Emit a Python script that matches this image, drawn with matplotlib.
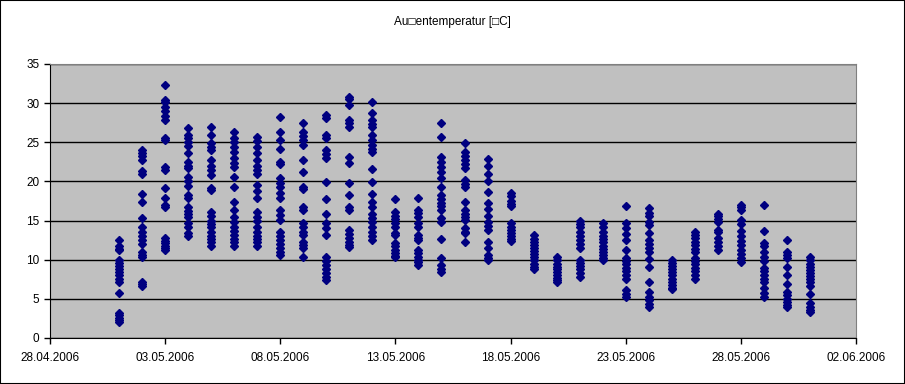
import datetime as dt
import matplotlib
matplotlib.use("Agg")
import matplotlib.pyplot as plt
import matplotlib.dates as mdates
from matplotlib.patches import Rectangle

plt.rcParams['font.family'] = ['Liberation Sans', 'DejaVu Sans']

title = "Au\u25a1entemperatur [\u25a1C]"

# one list of readings per day, 01.05.2006 .. 31.05.2006
day_values = [
    [12.5, 11.7, 11.4, 11.2, 10.0, 9.6, 9.2, 8.8, 8.4, 8.0, 7.6, 7.2, 5.8, 3.2, 2.9, 2.6, 2.3, 2.0],
    [24.0, 23.6, 23.2, 22.8, 21.3, 21.0, 18.4, 17.4, 15.3, 14.2, 13.6, 13.0, 12.5, 12.0, 11.0, 10.6, 10.4, 7.2, 6.9, 6.6],
    [32.3, 30.4, 30.1, 29.5, 29.0, 28.4, 27.8, 25.5, 25.3, 21.8, 21.5, 19.2, 17.9, 17.0, 16.7, 12.8, 12.4, 12.1, 11.8, 11.5, 11.2],
    [26.8, 25.9, 25.5, 25.0, 24.5, 23.6, 22.5, 22.0, 21.7, 20.6, 20.0, 19.4, 18.3, 17.9, 16.7, 16.2, 15.8, 15.5, 14.7, 14.2, 13.4, 13.0],
    [26.9, 25.9, 24.9, 24.4, 24.0, 22.7, 22.0, 21.4, 20.8, 19.2, 18.9, 16.1, 15.6, 15.0, 14.6, 14.2, 13.5, 13.0, 12.6, 12.2, 11.8],
    [26.3, 25.6, 25.0, 24.4, 23.8, 23.0, 22.4, 21.8, 20.6, 19.3, 17.4, 16.4, 15.5, 14.8, 14.2, 13.7, 13.2, 12.7, 12.2, 11.7],
    [25.7, 25.2, 24.4, 23.6, 22.7, 22.0, 21.4, 21.0, 19.5, 18.8, 17.9, 16.1, 15.5, 15.0, 14.2, 13.6, 13.0, 12.6, 12.2, 11.7],
    [28.2, 26.3, 25.3, 24.1, 22.5, 22.2, 20.4, 19.8, 19.3, 18.5, 17.9, 16.3, 15.7, 15.1, 13.5, 13.0, 12.5, 12.0, 11.5, 11.0, 10.6],
    [27.5, 26.3, 25.8, 25.3, 24.6, 22.7, 21.2, 19.3, 19.0, 16.7, 16.3, 14.7, 14.2, 13.6, 13.2, 12.3, 11.9, 11.5, 10.3],
    [28.5, 28.1, 25.9, 25.5, 24.0, 23.5, 23.0, 19.9, 17.8, 15.8, 14.7, 14.0, 13.2, 10.3, 9.8, 9.3, 8.8, 8.3, 7.8, 7.4],
    [30.8, 30.5, 29.8, 27.9, 27.5, 26.9, 23.1, 22.4, 19.8, 18.3, 16.7, 16.3, 13.8, 13.3, 12.8, 12.3, 11.9, 11.6],
    [30.1, 28.7, 27.8, 27.3, 26.9, 25.9, 25.3, 24.6, 24.2, 23.8, 21.6, 19.9, 18.4, 17.4, 16.7, 15.8, 15.3, 14.8, 14.2, 13.5, 13.0, 12.5],
    [17.8, 16.1, 15.6, 15.2, 14.7, 14.2, 13.4, 13.2, 12.1, 11.7, 11.3, 10.9, 10.5, 10.3],
    [17.9, 16.3, 16.0, 15.5, 14.7, 14.2, 13.2, 12.8, 12.5, 11.2, 10.8, 10.4, 10.0, 9.7, 9.3],
    [27.5, 25.7, 23.1, 22.5, 21.8, 21.2, 20.4, 19.3, 18.3, 17.8, 17.3, 16.8, 16.3, 15.3, 14.8, 12.6, 10.2, 9.3, 8.8, 8.4],
    [24.9, 23.8, 23.3, 22.8, 22.2, 21.7, 20.2, 19.7, 19.3, 17.4, 16.3, 15.9, 15.5, 15.1, 14.0, 13.6, 13.4, 12.3],
    [22.9, 22.0, 20.9, 20.1, 18.6, 17.2, 16.5, 15.6, 14.8, 14.3, 13.8, 12.3, 11.5, 10.6, 10.2, 9.9],
    [18.5, 18.1, 17.5, 17.1, 16.8, 14.7, 14.2, 13.8, 13.4, 13.0, 12.7, 12.4],
    [13.2, 12.7, 12.3, 11.9, 11.5, 11.1, 10.7, 10.3, 9.9, 9.5, 9.1, 8.8],
    [10.3, 9.9, 9.5, 9.1, 8.8, 8.4, 8.0, 7.7, 7.4, 7.1],
    [15.0, 14.6, 14.2, 13.6, 13.0, 12.5, 12.0, 11.5, 10.0, 9.6, 9.2, 8.8, 8.3, 7.8],
    [14.7, 14.2, 13.6, 13.0, 12.6, 12.2, 11.8, 11.4, 11.0, 10.6, 10.2, 9.9],
    [16.9, 14.7, 14.0, 13.3, 12.5, 11.2, 10.2, 9.8, 9.4, 9.0, 8.5, 8.0, 7.5, 6.1, 5.6, 5.2],
    [16.6, 16.0, 15.6, 14.8, 14.4, 13.4, 12.5, 12.0, 11.5, 11.0, 10.1, 9.1, 7.2, 5.9, 5.3, 4.8, 4.3, 3.9],
    [10.0, 9.6, 9.2, 8.8, 8.4, 8.0, 7.6, 7.2, 6.8, 6.4, 6.2],
    [13.6, 13.2, 12.8, 12.3, 11.9, 11.4, 11.0, 10.2, 9.8, 9.4, 9.0, 8.5, 8.0, 7.5],
    [15.9, 15.6, 15.2, 14.8, 13.8, 13.5, 12.8, 12.3, 11.8, 11.3],
    [17.0, 16.7, 16.3, 15.1, 14.5, 13.7, 13.0, 12.4, 11.9, 11.3, 10.7, 10.2, 9.7],
    [17.0, 13.7, 12.1, 11.8, 11.0, 10.4, 9.8, 8.9, 8.5, 8.0, 7.5, 7.2, 6.4, 5.7, 5.3],
    [12.5, 11.0, 10.6, 10.2, 9.1, 8.0, 6.9, 5.9, 5.5, 5.0, 4.6, 4.2, 3.9],
    [10.3, 9.9, 9.5, 9.1, 8.7, 8.3, 7.9, 7.5, 7.1, 6.7, 5.6, 4.5, 4.0, 3.6, 3.3],
]
first_day = dt.datetime(2006, 5, 1)

x_ticks = ["28.04.2006", "03.05.2006", "08.05.2006", "13.05.2006",
           "18.05.2006", "23.05.2006", "28.05.2006", "02.06.2006"]
y_ticks = [0, 5, 10, 15, 20, 25, 30, 35]

xs, ys = [], []
for i, vals in enumerate(day_values):
    d = first_day + dt.timedelta(days=i)
    for v in vals:
        xs.append(d)
        ys.append(v)

fig = plt.figure(figsize=(9.05, 3.84), dpi=100)
fig.patches.append(Rectangle((0, 0), 1, 1, transform=fig.transFigure,
                             fill=False, edgecolor='black', linewidth=1.5))
ax = fig.add_axes([50 / 905, 1 - 338 / 384, 806 / 905, 274 / 384])
ax.set_facecolor('#c0c0c0')

ax.plot(xs, ys, linestyle='none', marker='D', markersize=4.2,
        color='#000080', zorder=3)

tick_dates = [dt.datetime.strptime(t, "%d.%m.%Y") for t in x_ticks]
ax.set_xlim(tick_dates[0], tick_dates[-1])
ax.set_ylim(0, 35)
ax.set_xticks(tick_dates)
ax.set_xticklabels(x_ticks)
ax.set_yticks(y_ticks)
ax.yaxis.grid(True, color='black', linewidth=1)
ax.set_axisbelow(True)

for s in ['top', 'right']:
    ax.spines[s].set_color('#808080')
for s in ['left', 'bottom']:
    ax.spines[s].set_color('black')
ax.tick_params(axis='both', direction='out', length=4, width=1,
               labelsize=8.5, color='black')
ax.tick_params(axis='x', pad=6)

fig.text(0.5, 1 - 22 / 384, title, ha='center', va='center', fontsize=8.5)

fig.savefig("out.png", dpi=100)
